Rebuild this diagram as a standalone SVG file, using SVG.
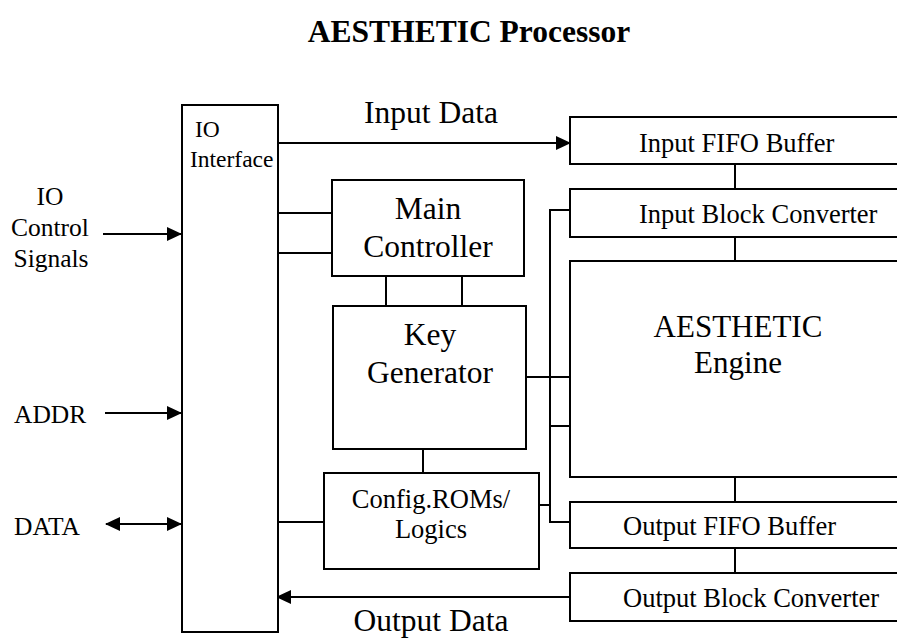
<svg xmlns="http://www.w3.org/2000/svg" width="897" height="639" viewBox="0 0 897 639">
<style>
.box{fill:#fff;stroke:#000;stroke-width:2}
.ln{stroke:#000;stroke-width:2;fill:none}
.arr{marker-end:url(#ah)}
text{font-family:"Liberation Serif","Times New Roman",serif;fill:#000}
.t1{font-size:31.5px;text-anchor:middle}
.t2{font-size:26.5px}
.t3{font-size:25.5px}
.t4{font-size:23.5px}
</style>
<defs>
<marker id="ah" markerUnits="userSpaceOnUse" markerWidth="15" markerHeight="14" refX="14" refY="7" orient="auto-start-reverse">
<path d="M0,0 L15,7 L0,14 z" fill="#000"/>
</marker>
</defs>
<rect width="897" height="639" fill="#fff"/>
<text id="title" x="469" y="42" style="font-size:31.5px;font-weight:bold;text-anchor:middle">AESTHETIC Processor</text>

<g id="connectors">
<line class="ln arr" x1="278" y1="143" x2="570" y2="143"/>
<line class="ln arr" x1="570" y1="597" x2="277" y2="597"/>
<line class="ln arr" x1="103" y1="234" x2="181" y2="234"/>
<line class="ln arr" x1="105" y1="413" x2="181" y2="413"/>
<line class="ln" x1="106" y1="524" x2="181" y2="524" style="marker-start:url(#ah);marker-end:url(#ah)"/>
<line class="ln" x1="278" y1="213" x2="332" y2="213"/>
<line class="ln" x1="278" y1="253" x2="332" y2="253"/>
<line class="ln" x1="386" y1="276" x2="386" y2="306"/>
<line class="ln" x1="462" y1="276" x2="462" y2="306"/>
<line class="ln" x1="423" y1="449" x2="423" y2="473"/>
<line class="ln" x1="278" y1="522" x2="324" y2="522"/>
<line class="ln" x1="526" y1="377" x2="570" y2="377"/>
<polyline class="ln" points="570,210 550,210 550,522 570,522"/>
<line class="ln" x1="550" y1="426" x2="570" y2="426"/>
<line class="ln" x1="539" y1="505" x2="550" y2="505"/>
<line class="ln" x1="735" y1="164" x2="735" y2="189"/>
<line class="ln" x1="735" y1="237" x2="735" y2="261"/>
<line class="ln" x1="735" y1="477" x2="735" y2="502"/>
<line class="ln" x1="735" y1="548" x2="735" y2="573"/>
</g>

<g id="io-interface">
<rect class="box" x="182" y="105" width="96" height="527"/>
<text class="t4" x="195" y="137">IO</text>
<text class="t4" x="190" y="167">Interface</text>
</g>
<g id="main-controller">
<rect class="box" x="332" y="180" width="192" height="96"/>
<text class="t1" x="428" y="219">Main</text>
<text class="t1" x="428" y="257">Controller</text>
</g>
<g id="key-generator">
<rect class="box" x="333" y="306" width="193" height="143"/>
<text class="t1" x="430" y="345">Key</text>
<text class="t1" x="430" y="383">Generator</text>
</g>
<g id="config-roms">
<rect class="box" x="324" y="473" width="215" height="96"/>
<text class="t2" x="431" y="508" text-anchor="middle">Config.ROMs/</text>
<text class="t2" x="431" y="538" text-anchor="middle">Logics</text>
</g>
<g id="input-fifo">
<rect class="box" x="570" y="117" width="340" height="47"/>
<text class="t2" x="639" y="152">Input FIFO Buffer</text>
</g>
<g id="input-block-converter">
<rect class="box" x="570" y="189" width="340" height="48"/>
<text class="t2" x="639" y="223">Input Block Converter</text>
</g>
<g id="engine">
<rect class="box" x="570" y="261" width="340" height="216"/>
<text class="t1" x="738" y="337" style="font-size:31px">AESTHETIC</text>
<text class="t1" x="738" y="373" style="font-size:31px">Engine</text>
</g>
<g id="output-fifo">
<rect class="box" x="570" y="502" width="340" height="46"/>
<text class="t2" x="623" y="535">Output FIFO Buffer</text>
</g>
<g id="output-block-converter">
<rect class="box" x="570" y="573" width="340" height="48"/>
<text class="t2" x="623" y="607">Output Block Converter</text>
</g>

<g id="labels">
<text class="t1" x="431" y="123">Input Data</text>
<text class="t1" x="431" y="631">Output Data</text>
<text class="t3" x="50" y="205" text-anchor="middle">IO</text>
<text class="t3" x="50" y="236" text-anchor="middle">Control</text>
<text class="t3" x="51" y="267" text-anchor="middle">Signals</text>
<text class="t3" x="14" y="423">ADDR</text>
<text class="t3" x="14" y="535">DATA</text>
</g>
</svg>
